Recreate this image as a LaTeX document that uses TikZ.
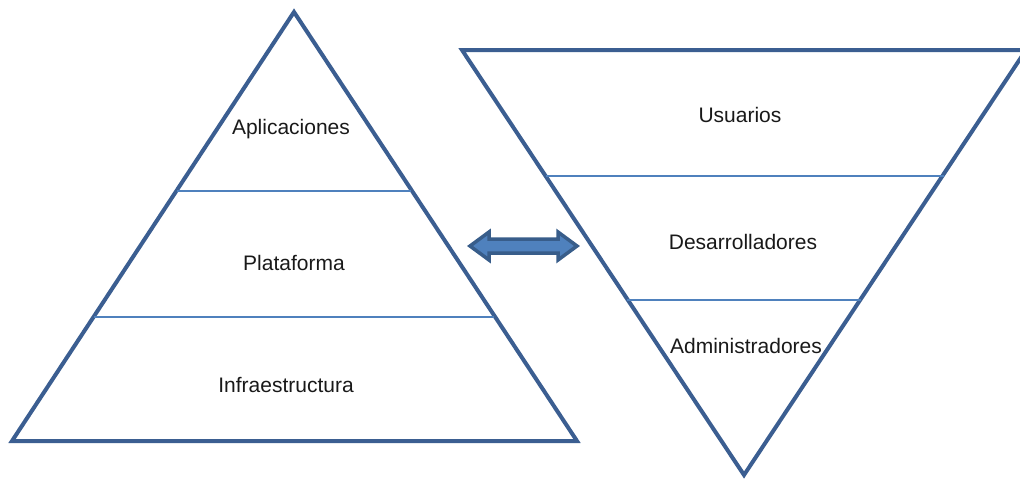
\documentclass[tikz,border=0pt]{standalone}
\usepackage{fontspec}
\setmainfont{Liberation Sans}
\definecolor{edgeblue}{HTML}{3B5E91}
\definecolor{lineblue}{HTML}{4F81BD}
\definecolor{arrowfill}{HTML}{4F81BD}
\definecolor{arrowedge}{HTML}{385D8A}
\begin{document}
\begin{tikzpicture}[x=1pt,y=-1pt,
  tri/.style={draw=edgeblue,line width=4pt,line join=miter},
  sep/.style={draw=lineblue,line width=1.8pt},
  lbl/.style={font=\fontsize{21}{25}\selectfont,inner sep=0pt,text=black!90}]
\useasboundingbox (0,0) rectangle (1020,479);
\clip (0,0) rectangle (1020,479);
% left pyramid
\coordinate (LA) at (294,12);
\coordinate (LL) at (12,441);
\coordinate (LR) at (577,441);
\draw[tri] (LA) -- (LR) -- (LL) -- cycle;
\coordinate (L1a) at (177,191); \coordinate (L1b) at (411,191);
\coordinate (L2a) at (94,317); \coordinate (L2b) at (494,317);
\draw[sep] (L1a) -- (L1b);
\draw[sep] (L2a) -- (L2b);
\node[lbl] (apl) at (291,129) {Aplicaciones};
\node[lbl] (pla) at (294,263) {Plataforma};
\node[lbl] (inf) at (286,385) {Infraestructura};
% right inverted pyramid
\coordinate (RL) at (462,50);
\coordinate (RR) at (1026,50);
\coordinate (RB) at (744,475);
\draw[tri] (RL) -- (RR) -- (RB) -- cycle;
\coordinate (R1a) at (546,176); \coordinate (R1b) at (944,176);
\coordinate (R2a) at (627,300); \coordinate (R2b) at (861,300);
\draw[sep] (R1a) -- (R1b);
\draw[sep] (R2a) -- (R2b);
\node[lbl] (usu) at (740,115) {Usuarios};
\node[lbl] (des) at (743,242) {Desarrolladores};
\node[lbl] (adm) at (746,346) {Administradores};
% double arrow
\draw[fill=arrowfill,draw=arrowedge,line width=3.5pt,line join=miter]
  (470,246) -- (489,232) -- (489,239) -- (558,239) -- (558,232) -- (577,246)
  -- (558,260) -- (558,253) -- (489,253) -- (489,260) -- cycle;
\end{tikzpicture}
\end{document}
